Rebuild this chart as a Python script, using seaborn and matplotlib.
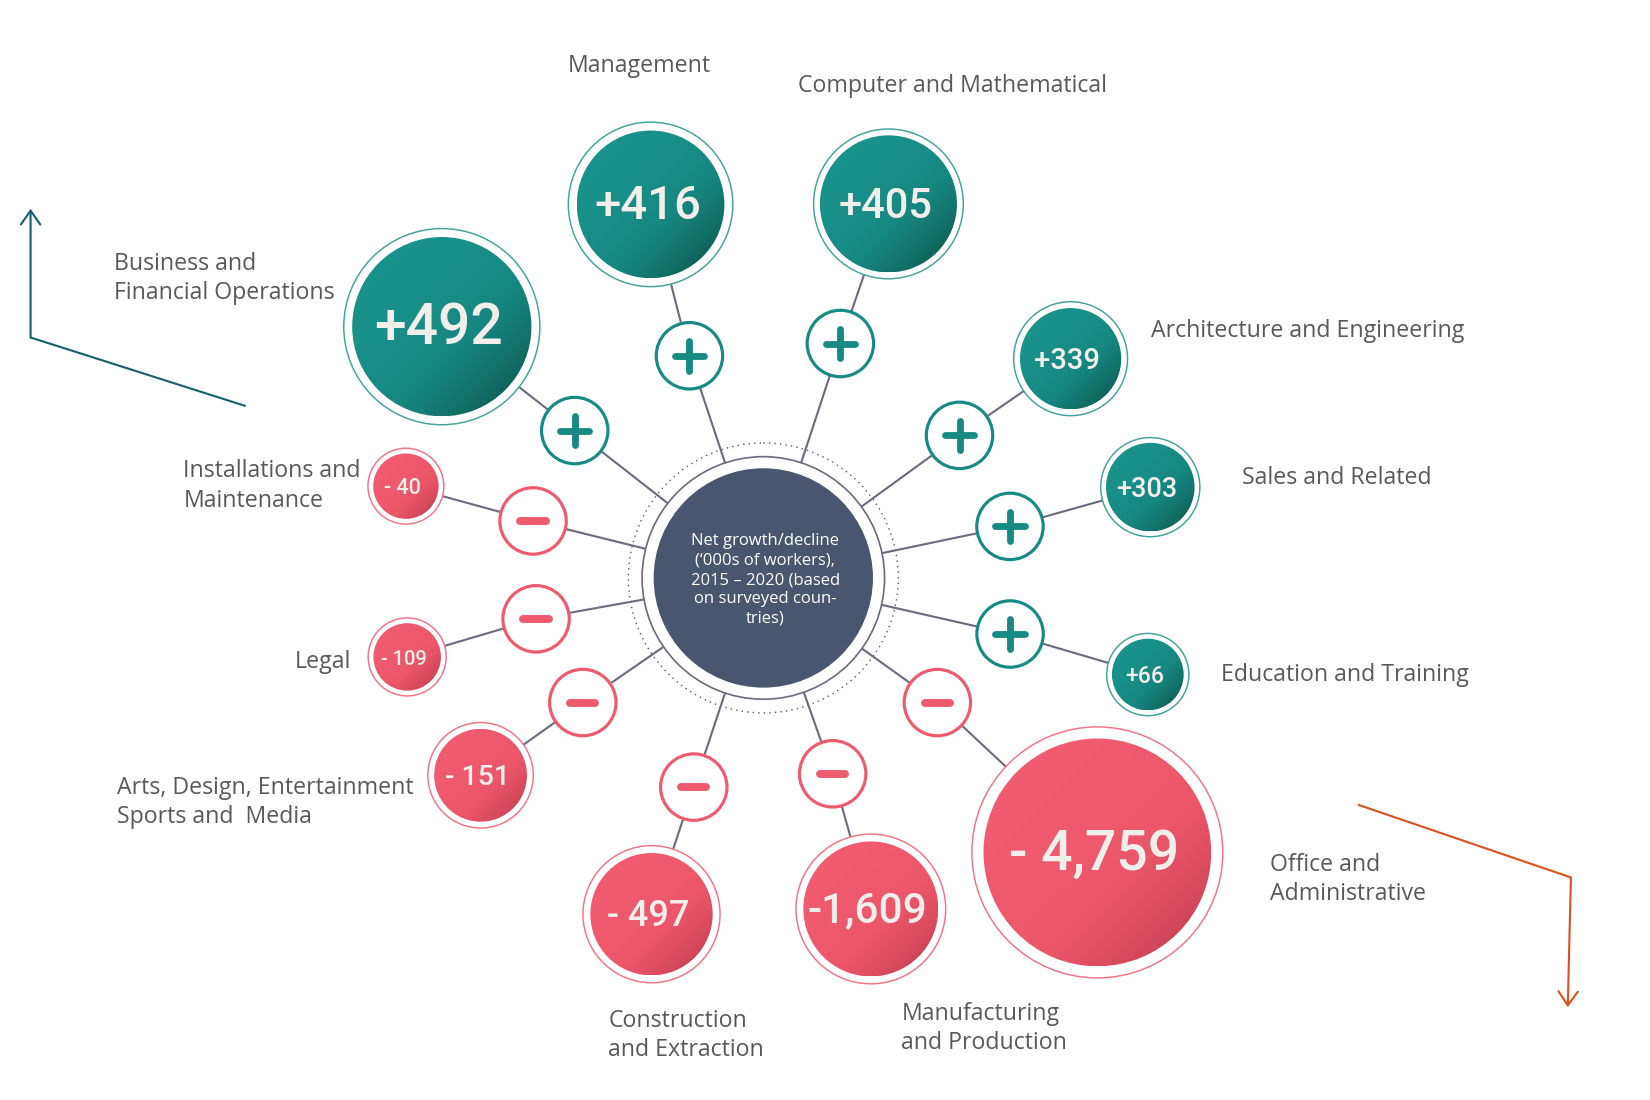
import numpy as np
import matplotlib
matplotlib.use("Agg")
import matplotlib.pyplot as plt
from matplotlib.patches import Circle
from matplotlib.colors import LinearSegmentedColormap
import seaborn as sns

# ---------------- data ----------------
categories = ["Business and\nFinancial Operations", "Management", "Computer and Mathematical",
              "Architecture and Engineering", "Sales and Related", "Education and Training",
              "Office and\nAdministrative", "Manufacturing\nand Production",
              "Construction\nand Extraction", "Arts, Design, Entertainment\nSports and  Media",
              "Legal", "Installations and\nMaintenance"]
values = [492, 416, 405, 339, 303, 66, -4759, -1609, -497, -151, -109, -40]
value_labels = ["+492", "+416", "+405", "+339", "+303", "+66",
                "- 4,759", "-1,609", "- 497", "- 151", "- 109", "- 40"]
center_text = "Net growth/decline\n(\u2018000s of workers),\n2015 \u2013 2020 (based\non surveyed coun-\ntries)"

# ---------------- layout (pixel space of a 1565 x 1043 canvas) ----------------
CX, CY = 724, 548
bubble_angle = [142.0, 106.8, 71.5, 35.5, 13.2, -14.1, -39.4, -72.0, -108.4, -145.1, 192.5, 165.6]
bubble_dist = [387, 370, 374, 358, 377, 376, 410, 330, 336, 327, 346, 350]
bubble_r = [85, 70, 65, 48, 42, 34, 108, 64, 58, 44, 32, 31]
ring_r = [93, 78, 71, 54, 47, 39, 119, 71, 65, 50, 37, 36]
sign_angle = [142.0, 108.4, 71.8, 36.0, 11.8, -12.8, -35.6, -70.5, -108.4, -145.4, 190.2, 166.1]
sign_dist = [227, 222, 234, 230, 239, 240, 203, 197, 209, 208, 219, 225]
value_fs = [41, 34, 30, 21, 19.5, 16.5, 40, 30.5, 26, 20.5, 14.5, 15.5]
label_pos = [(108, 264, "left"), (606, 63, "center"), (903, 82, "center"),
             (1092, 314, "left"), (1178, 453, "left"), (1158, 640, "left"),
             (1205, 834, "left"), (855, 975, "left"), (577, 982, "left"),
             (111, 761, "left"), (333, 628, "right"), (174, 461, "left")]
SIGN_R = 31.5

TEAL = "#178A84"
PINK = "#EE5A6E"
LINE = "#6E6A80"
GRAY = "#595959"
S = 1650 / 1565.0


def px(p):
    """canvas px -> points"""
    return p * S * 72 / 100.0


sns.set_theme(style="white")
plt.rcParams["font.family"] = ["Open Sans", "DejaVu Sans"]

fig = plt.figure(figsize=(16.5, 11), dpi=100)
ax = fig.add_axes([0, 0, 1, 1])

teal_cmap = LinearSegmentedColormap.from_list("t", ["#1A938C", "#168680", "#10685F", "#0A4236"])
pink_cmap = LinearSegmentedColormap.from_list("p", ["#F15C70", "#EC5669", "#D3475A", "#A22D3A"])

gx, gy = np.meshgrid(np.linspace(0, 1, 200), np.linspace(0, 1, 200))
grad = np.clip((gx + gy) / 2.0, 0, 1) ** 2.2


def polar(a, d):
    r = np.deg2rad(a)
    return CX + d * np.cos(r), CY - d * np.sin(r)


# dotted circle and center
ax.add_patch(Circle((CX, CY), 128, fill=False, ec="#555566", lw=1.0, ls=(0, (1, 3)), zorder=1))
ax.add_patch(Circle((CX, CY), 115, fc="white", ec=LINE, lw=px(1.6), zorder=3))
ax.add_patch(Circle((CX, CY), 104, fc="#4A5570", ec="none", zorder=4))
ax.text(CX + 2, CY + 2, center_text, ha="center", va="center", color="white",
        fontsize=12, linespacing=1.28, zorder=6)

for i, v in enumerate(values):
    pos = v > 0
    col = TEAL if pos else PINK
    ring_col = "#43A29C" if pos else "#F07485"
    bx, by = polar(bubble_angle[i], bubble_dist[i])
    sx, sy = polar(sign_angle[i], sign_dist[i])
    # connector
    ax.plot([CX, sx, bx], [CY, sy, by], color=LINE, lw=px(2.0), zorder=2, solid_capstyle="butt")
    # sign circle
    ax.add_patch(Circle((sx, sy), SIGN_R, fc="white", ec=col, lw=px(3.0), zorder=3))
    h = 14
    if pos:
        ax.plot([sx - h, sx + h], [sy, sy], color=col, lw=px(6.5), solid_capstyle="round", zorder=4)
        ax.plot([sx, sx], [sy - h, sy + h], color=col, lw=px(6.5), solid_capstyle="round", zorder=4)
    else:
        ax.plot([sx - h + 2, sx + h - 2], [sy, sy], color=col, lw=px(7.5), solid_capstyle="round", zorder=4)
    # bubble ring
    ax.add_patch(Circle((bx, by), ring_r[i], fc="white", ec=ring_col, lw=px(1.4), zorder=3))
    r = bubble_r[i]
    clip = Circle((bx, by), r, transform=ax.transData)
    im = ax.imshow(grad, cmap=teal_cmap if pos else pink_cmap, vmin=0, vmax=1,
                   extent=(bx - r, bx + r, by + r, by - r), origin="upper",
                   aspect="auto", zorder=4, interpolation="bilinear")
    im.set_clip_path(clip)
    ax.text(bx - 3, by + 2, value_labels[i], ha="center", va="center", color="#F2EEEA",
            fontsize=value_fs[i], fontweight="medium",
            family=["Roboto", "DejaVu Sans"], zorder=6)
    # category label
    lx, ly, ha = label_pos[i]
    ax.text(lx, ly, categories[i], ha=ha, va="center", color=GRAY, fontsize=16.7,
            linespacing=1.3, zorder=6)

# trend arrows
arrow_up = [(233, 385), (29, 320), (29, 198)]
arrow_down = [(1288, 763), (1490, 832), (1487, 955)]
for pts, c in [(arrow_up, "#1B5F6E"), (arrow_down, "#D9531E")]:
    ax.plot([pts[0][0], pts[1][0]], [pts[0][1], pts[1][1]], color=c, lw=px(2.0),
            solid_capstyle="butt", zorder=2)
    ax.annotate("", xy=pts[2], xytext=pts[1],
                arrowprops=dict(arrowstyle="->,head_length=0.5,head_width=0.35", color=c,
                                lw=px(2.0), shrinkA=0, shrinkB=0, mutation_scale=20), zorder=2)

ax.set_xlim(0, 1565)
ax.set_ylim(1043, 0)
ax.axis("off")
fig.savefig("out.png", dpi=100, facecolor="white")
